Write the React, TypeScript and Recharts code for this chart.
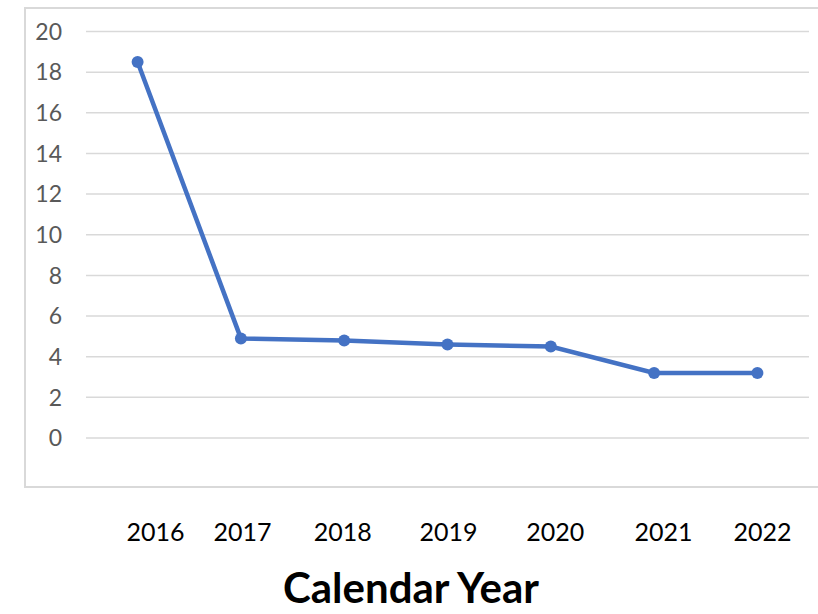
import React from 'react';
import { LineChart, Line, XAxis, YAxis, CartesianGrid } from 'recharts';

const years = ['2016', '2017', '2018', '2019', '2020', '2021', '2022'];
const values = [18.5, 4.9, 4.8, 4.6, 4.5, 3.2, 3.2];
const yTicks = [0, 2, 4, 6, 8, 10, 12, 14, 16, 18, 20];

const data = years.map((year, i) => ({ year, value: values[i] }));

// year labels in the source sit a little off the points
const labelNudge = [18, 1.5, -1.5, 1, 4.5, 9.5, 5];

const FONT = 'Lato, "Open Sans", sans-serif';

const YearTick = (props: any) => {
  const { x, y, payload, index } = props;
  return (
    <text
      x={x + (labelNudge[index] || 0)}
      y={y + 92}
      dy="0.36em"
      textAnchor="middle"
      fill="#000000"
      fontFamily={FONT}
      fontSize={25}
    >
      {payload.value}
    </text>
  );
};

export default function App() {
  return (
    <div style={{ position: 'absolute', left: 0, top: 0, width: 818, height: 614, background: '#fff', overflow: 'hidden' }}>
      <div
        style={{
          position: 'absolute',
          left: 24,
          top: 7,
          width: 820,
          height: 481,
          border: '2px solid #D9D9D9',
          boxSizing: 'border-box',
        }}
      />
      <div style={{ position: 'absolute', left: 0, top: 0 }}>
        <LineChart width={818} height={614} data={data} margin={{ top: 31.5, right: 9, bottom: 0, left: 0 }}>
          <CartesianGrid vertical={false} stroke="#D9D9D9" strokeWidth={1.5} />
          <XAxis
            dataKey="year"
            height={176}
            axisLine={false}
            tickLine={false}
            tickSize={0}
            tick={<YearTick />}
            padding={{ left: 51.6, right: 51.6 }}
            interval={0}
          />
          <YAxis
            domain={[0, 20]}
            ticks={yTicks}
            width={86}
            axisLine={false}
            tickLine={false}
            tickSize={0}
            tickMargin={24}
            tick={{ fill: '#595959', fontSize: 23, fontFamily: FONT }}
            interval={0}
          />
          <Line
            type="linear"
            dataKey="value"
            stroke="#4472C4"
            strokeWidth={4.5}
            dot={{ r: 6, fill: '#4472C4', stroke: '#4472C4', strokeWidth: 0 }}
            isAnimationActive={false}
          />
        </LineChart>
      </div>
      <div
        style={{
          position: 'absolute',
          left: 0,
          top: 566,
          width: 822,
          textAlign: 'center',
          fontFamily: FONT,
          fontWeight: 700,
          fontSize: 42,
          color: '#000',
          lineHeight: '42px',
        }}
      >
        Calendar Year
      </div>
    </div>
  );
}
